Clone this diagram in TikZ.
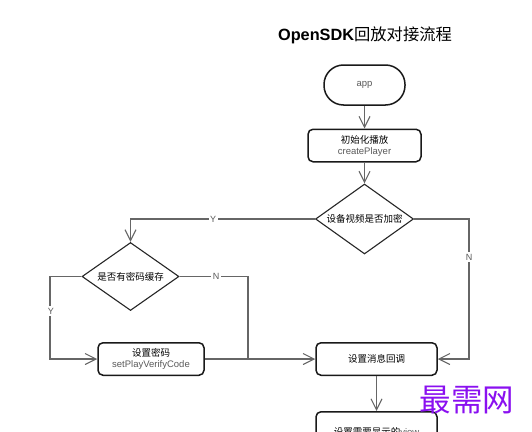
\documentclass[tikz,border=0pt]{standalone}
\usepackage{fontspec}
\setmainfont{Liberation Sans}
\newfontfamily\cjk{Noto Sans CJK SC}
\usetikzlibrary{arrows.meta,shapes.geometric}
\definecolor{linegray}{HTML}{666666}
\definecolor{txtgray}{HTML}{5A5A5A}
\definecolor{wm}{HTML}{8A10F0}
\tikzset{
  x=1pt,y=-1pt,
  boxline/.style={draw=black!90,line width=1.5pt,fill=white,align=center,inner sep=0pt,font=\fontsize{9.5}{11}\selectfont},
  procbox/.style={boxline,rounded corners=5pt,minimum width=#1,minimum height=32.5pt},
  startbox/.style={boxline,rounded corners=19.5pt,minimum width=81pt,minimum height=40pt},
  decision/.style={draw=black!85,line width=1.1pt,diamond,aspect=1.4,fill=white,inner sep=0pt,minimum width=#1,align=center,font=\fontsize{9.5}{11}\selectfont},
  link/.style={draw=linegray,line width=1.2pt},
  arrowlink/.style={link,-{Straight Barb[length=11pt,width=11pt,line width=1.1pt]}},
  flabel/.style={fill=white,text=txtgray,inner sep=1.5pt,font=\fontsize{9}{11}\selectfont}
}
\begin{document}
\begin{tikzpicture}
\useasboundingbox (0,0) rectangle (532,431);
\clip (0,0) rectangle (532,431);
\node[font=\fontsize{16.3}{18}\selectfont] (title) at (365,35) {\textbf{OpenSDK}{\cjk 回放对接流程}};
\node[startbox] (app) at (364.5,85) {\textcolor{txtgray}{app}};
\node[procbox=113pt] (init) at (364.5,145.5) {{\cjk 初始化播放}\\\textcolor{txtgray}{createPlayer}};
\node[decision=98pt,minimum height=70pt,aspect=1.4] (enc) at (364.5,219) {\cjk 设备视频是否加密};
\node[decision=97pt,minimum height=68pt] (cache) at (130.5,276.5) {\cjk 是否有密码缓存};
\node[procbox=106pt] (pwd) at (151,359) {{\cjk 设置密码}\\\textcolor{txtgray}{setPlayVerifyCode}};
\node[procbox=121pt] (msg) at (376.5,359) {\cjk 设置消息回调};
\node[procbox=121pt,minimum height=40pt,anchor=north] (view) at (376.5,411) {{\cjk 设置需要显示的}\textcolor{txtgray}{view}};
\coordinate (encleft) at (cache.north |- enc.west);
\coordinate (encright) at (469,219);
\coordinate (encdown) at (469,359);
\coordinate (cacheright) at (248,276.5);
\coordinate (join) at (248,359);
\coordinate (cacheleft) at (50,276.5);
\coordinate (pwdleft) at (50,359);
\draw[arrowlink] (app) -- (init);
\draw[arrowlink] (init) -- (enc.north);
\draw[arrowlink] (enc.west) -- (encleft) -- (cache.north);
\draw[arrowlink] (enc.east) -- (encright) -- (encdown) -- (msg.east);
\draw[arrowlink] (cache.west) -- (cacheleft) -- (pwdleft) -- (pwd.west);
\draw[link] (cache.east) -- (cacheright) -- (join);
\draw[arrowlink] (pwd.east) -- (msg.west);
\draw[arrowlink] (msg) -- (view);
\node[flabel] (ly1) at (213,219) {Y};
\node[flabel] (ln1) at (469,257) {N};
\node[flabel] (ln2) at (216,276.5) {N};
\node[flabel] (ly2) at (51,311) {Y};
\node[text=wm,font={\cjk\fontsize{31.5}{33}\selectfont},inner sep=0pt] (mark) at (467,400) {最需网};
\end{tikzpicture}
\end{document}
